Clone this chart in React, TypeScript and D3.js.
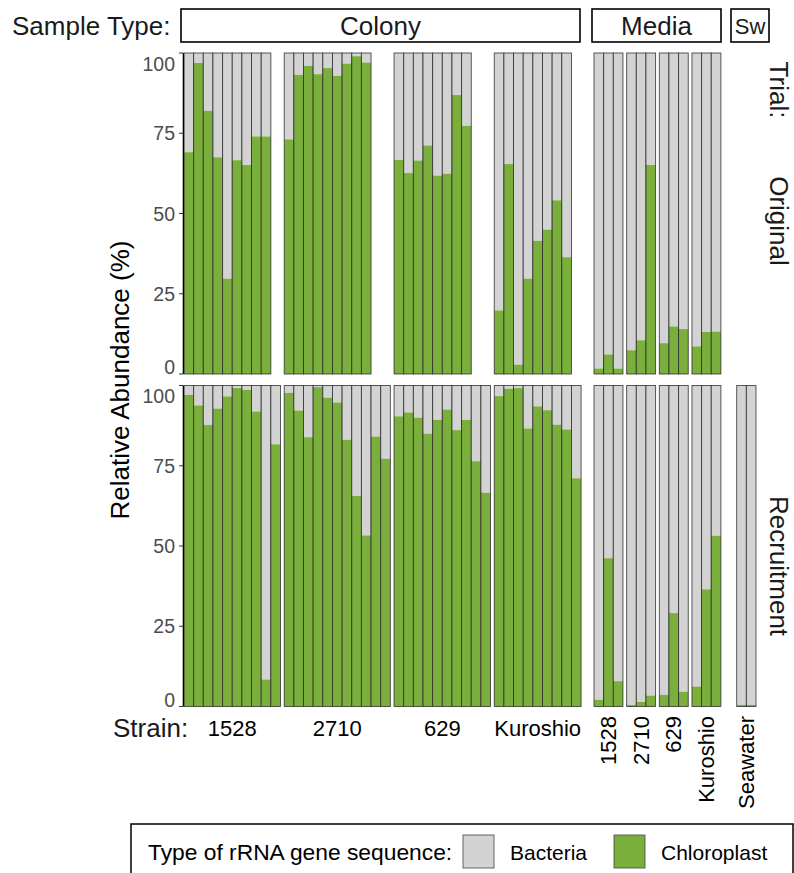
import React from "react";
import * as d3 from "d3";

// chloroplast share (%) per sample; the rest of each bar is bacteria
// Colony, Original trial
const colOrig1528 = [69.1, 96.9, 82.0, 67.5, 29.7, 66.6, 65.1, 74.0, 74.0];
const colOrig2710 = [73.1, 93.2, 96.0, 93.4, 95.3, 92.9, 96.7, 99.0, 97.0];
const colOrig629 = [66.7, 62.6, 66.5, 71.2, 61.8, 62.4, 86.9, 77.3];
const colOrigKuroshio = [19.8, 65.4, 2.9, 29.7, 41.5, 45.0, 54.1, 36.4];
// Colony, Recruitment trial
const colRec1528 = [97.1, 93.8, 87.7, 92.8, 96.6, 99.2, 98.6, 91.9, 8.4, 81.7];
const colRec2710 = [97.7, 92.2, 83.9, 99.5, 96.2, 94.7, 83.1, 65.6, 53.3, 84.1, 77.2];
const colRec629 = [90.4, 91.6, 90.0, 85.0, 89.3, 92.5, 86.1, 89.3, 76.4, 66.6];
const colRecKuroshio = [96.7, 99.0, 99.2, 86.6, 93.5, 92.3, 87.8, 86.3, 71.1];
// Media
const medOrig1528 = [1.7, 6.1, 1.7];
const medOrig2710 = [7.4, 10.5, 65.1];
const medOrig629 = [9.6, 14.8, 14.0];
const medOrigKuroshio = [8.6, 13.1, 13.2];
const medRec1528 = [2.1, 46.2, 7.9];
const medRec2710 = [0.5, 1.4, 3.4];
const medRec629 = [3.6, 29.1, 4.6];
const medRecKuroshio = [6.2, 36.5, 53.2];
// Seawater
const swRec = [0.5, 0.5];

const strains = ["1528", "2710", "629", "Kuroshio"];
const sampleTypes = ["Colony", "Media", "Sw"];
const trials = ["Original", "Recruitment"];
const yTicks = [0, 25, 50, 75, 100];
const legendLabels = ["Bacteria", "Chloroplast"];

const colonySlots = [10, 11, 10, 9];
const mediaSlots = [3, 3, 3, 3];
const seawaterSlots = 2;

const FONT = "Liberation Sans, Arial, Helvetica, sans-serif";
const GRAY = "#D3D3D3";
const GREEN = "#7BAF3C";
const PITCH = 9.65;
const GAP = 3.7;

type Panel = {
  type: string;
  label: string;
  x: d3.ScaleBand<number>;
  orig: number[] | null;
  rec: number[] | null;
};

function buildPanels(): Panel[] {
  const out: Panel[] = [];
  const colOrig = [colOrig1528, colOrig2710, colOrig629, colOrigKuroshio];
  const colRec = [colRec1528, colRec2710, colRec629, colRecKuroshio];
  const medOrig = [medOrig1528, medOrig2710, medOrig629, medOrigKuroshio];
  const medRec = [medRec1528, medRec2710, medRec629, medRecKuroshio];

  let x0 = 184;
  strains.forEach((s, i) => {
    const n = colonySlots[i];
    const x = d3.scaleBand<number>().domain(d3.range(n)).range([x0, x0 + n * PITCH]).padding(0);
    out.push({ type: "Colony", label: s, x, orig: colOrig[i], rec: colRec[i] });
    x0 += n * PITCH + GAP;
  });
  x0 = 594;
  strains.forEach((s, i) => {
    const n = mediaSlots[i];
    const x = d3.scaleBand<number>().domain(d3.range(n)).range([x0, x0 + n * PITCH]).padding(0);
    out.push({ type: "Media", label: s, x, orig: medOrig[i], rec: medRec[i] });
    x0 += n * PITCH + GAP;
  });
  x0 = 736.7;
  const xs = d3.scaleBand<number>().domain(d3.range(seawaterSlots)).range([x0, x0 + seawaterSlots * PITCH]).padding(0);
  out.push({ type: "Seawater", label: "Seawater", x: xs, orig: null, rec: swRec });
  return out;
}

const yOrig = d3.scaleLinear().domain([0, 100]).range([374, 53]);
const yRec = d3.scaleLinear().domain([0, 100]).range([706.5, 385.5]);

const Bars = ({ p, vals, y }: { p: Panel; vals: number[]; y: d3.ScaleLinear<number, number> }) => (
  <g>
    {vals.map((v, i) => {
      const bx = p.x(i) as number;
      const w = p.x.bandwidth();
      return (
        <g key={i}>
          <rect x={bx} y={y(100)} width={w} height={y(v) - y(100)} fill={GRAY} />
          <rect x={bx} y={y(v)} width={w} height={y(0) - y(v)} fill={GREEN} />
          <rect x={bx} y={y(100)} width={w} height={y(0) - y(100)} fill="none" stroke="#2a2a2a" strokeWidth={0.9} strokeOpacity={0.85} />
        </g>
      );
    })}
  </g>
);

const YAxis = ({ y }: { y: d3.ScaleLinear<number, number> }) => (
  <g>
    <line x1={183.4} x2={183.4} y1={y(100)} y2={y(0)} stroke="#000" strokeWidth={1.4} />
    {yTicks.map((t) => {
      const ty = y(t);
      const dy = t === 0 ? 0 : t === 100 ? 17.5 : 7;
      return (
        <g key={t}>
          <line x1={179} x2={183} y1={ty} y2={ty} stroke="#333" strokeWidth={1} />
          <text x={175} y={ty + dy} textAnchor="end" fontSize={19.5} fill="#4D4D4D" fontFamily={FONT}>
            {t}
          </text>
        </g>
      );
    })}
  </g>
);

export default function App() {
  const panels = buildPanels();
  const stripBoxes = [
    { label: sampleTypes[0], x0: 181, x1: 580 },
    { label: sampleTypes[1], x0: 592, x1: 721 },
    { label: sampleTypes[2], x0: 731, x1: 769 },
  ];
  const legendKeys = [
    { label: legendLabels[0], fill: GRAY, kx: 463 },
    { label: legendLabels[1], fill: GREEN, kx: 614 },
  ];
  const rowLabels = [
    { label: "Trial:", cy: 90 },
    { label: trials[0], cy: 221 },
    { label: trials[1], cy: 566 },
  ];

  return (
    <div style={{ position: "absolute", left: 0, top: 0 }}>
      <svg width={794} height={873} style={{ display: "block", background: "#fff" }} fontFamily={FONT}>
        {/* sample type strips */}
        <text x={12} y={26} dominantBaseline="central" fontSize={26} fill="#1a1a1a">
          Sample Type:
        </text>
        {stripBoxes.map((s) => (
          <g key={s.label}>
            <rect x={s.x0} y={9} width={s.x1 - s.x0} height={33} fill="#fff" stroke="#000" strokeWidth={1.6} />
            <text x={(s.x0 + s.x1) / 2} y={26} textAnchor="middle" dominantBaseline="central" fontSize={s.label === "Sw" ? 22 : 26} fill="#1a1a1a">
              {s.label}
            </text>
          </g>
        ))}

        {/* bars */}
        {panels.map((p, i) => (
          <g key={i}>
            {p.orig && <Bars p={p} vals={p.orig} y={yOrig} />}
            {p.rec && <Bars p={p} vals={p.rec} y={yRec} />}
          </g>
        ))}

        <YAxis y={yOrig} />
        <YAxis y={yRec} />

        <text transform="translate(120,380) rotate(-90)" textAnchor="middle" dominantBaseline="central" fontSize={26} fill="#000">
          Relative Abundance (%)
        </text>

        {/* trial labels */}
        {rowLabels.map((r) => (
          <text key={r.label} transform={`translate(779,${r.cy}) rotate(90)`} textAnchor="middle" dominantBaseline="central" fontSize={26} fill="#1a1a1a">
            {r.label}
          </text>
        ))}

        {/* strain labels */}
        <text x={113} y={737} fontSize={26} fill="#1a1a1a">
          Strain:
        </text>
        {panels.map((p, i) => {
          const [a, b] = p.x.range();
          const cx = (a + b) / 2;
          if (p.type === "Colony") {
            return (
              <text key={i} x={cx} y={736} textAnchor="middle" fontSize={22} fill="#000">
                {p.label}
              </text>
            );
          }
          return (
            <text key={i} transform={`translate(${cx},716) rotate(-90)`} textAnchor="end" dominantBaseline="central" fontSize={22} fill="#000">
              {p.label}
            </text>
          );
        })}

        {/* legend */}
        <rect x={131} y={824} width={662} height={70} fill="#fff" stroke="#000" strokeWidth={1.5} />
        <text x={148} y={852} dominantBaseline="central" fontSize={22.8} fill="#000">
          Type of rRNA gene sequence:
        </text>
        {legendKeys.map((k) => (
          <g key={k.label}>
            <rect x={k.kx} y={835} width={31} height={33} fill={k.fill} stroke="#444" strokeWidth={0.8} />
            <text x={k.kx + 47} y={852} dominantBaseline="central" fontSize={21} fill="#000">
              {k.label}
            </text>
          </g>
        ))}
      </svg>
    </div>
  );
}
